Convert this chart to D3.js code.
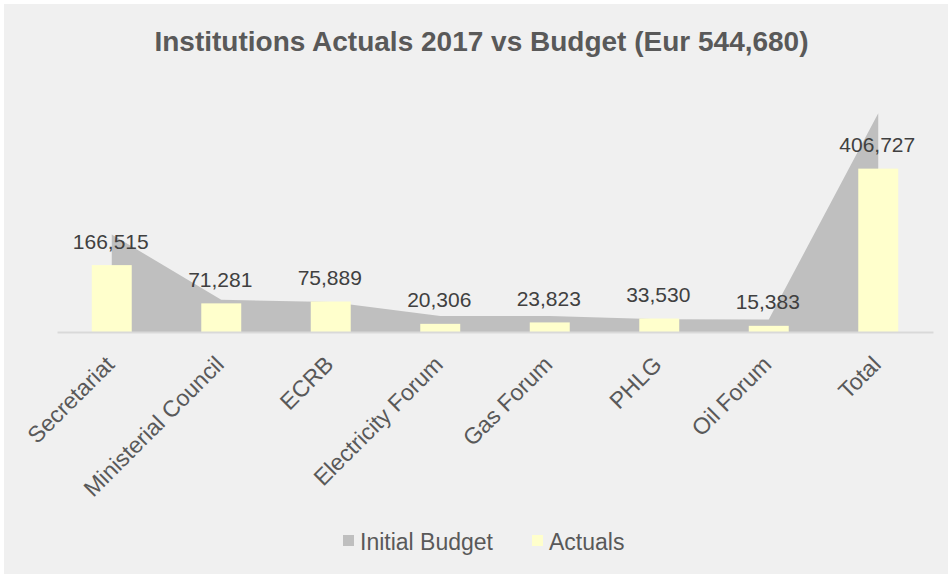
<!DOCTYPE html>
<html>
<head>
<meta charset="utf-8">
<script src="https://cdn.jsdelivr.net/npm/d3@7"></script>
<style>
  html, body { margin: 0; padding: 0; background: #ffffff; }
  svg { display: block; }
  text { font-family: "Liberation Sans", Arial, sans-serif; }
</style>
</head>
<body>
<svg id="chart" width="948" height="574"></svg>
<script>
const categories = ["Secretariat", "Ministerial Council", "ECRB", "Electricity Forum", "Gas Forum", "PHLG", "Oil Forum", "Total"];
const budgetValues = [243000, 80000, 75000, 40000, 40000, 32000, 31000, 544680];
const actualValues = [166515, 71281, 75889, 20306, 23823, 33530, 15383, 406727];
const seriesNames = ["Initial Budget", "Actuals"];
const titleText = "Institutions Actuals 2017 vs Budget (Eur 544,680)";

const W = 948, H = 574;
const svg = d3.select("#chart");

svg.append("rect").attr("x", 4).attr("y", 4).attr("width", W - 4).attr("height", H - 4).attr("fill", "#f0f0f0");

const x = d3.scaleBand().domain(categories).range([57, 933]).padding(0);
const y = d3.scaleLinear().domain([0, 600000]).range([332, 91]);
const cx = c => x(c) + x.bandwidth() / 2;

const fmt = d3.format(",");

// title
svg.append("text")
  .attr("x", 481.5).attr("y", 51)
  .attr("text-anchor", "middle")
  .attr("font-size", 28).attr("font-weight", "bold")
  .attr("fill", "#595959")
  .text(titleText);

// budget area
const area = d3.area()
  .x((d, i) => cx(categories[i]))
  .y0(y(0))
  .y1(d => y(d));
svg.append("path").datum(budgetValues)
  .attr("d", area)
  .attr("fill", "#bfbfbf");

// actual bars
const bw = x.bandwidth() * 0.365;
svg.selectAll("rect.bar").data(actualValues).join("rect")
  .attr("class", "bar")
  .attr("x", (d, i) => cx(categories[i]) - bw / 2)
  .attr("y", d => y(d))
  .attr("width", bw)
  .attr("height", d => y(0) - y(d))
  .attr("fill", "#ffffcc");

// axis line
const xAxis = d3.axisBottom(x).tickSize(0).tickFormat("");
const gx = svg.append("g").attr("transform", `translate(0,${y(0)})`).call(xAxis);
gx.select(".domain").attr("stroke", "#d9d9d9").attr("stroke-width", 2);

// category labels
svg.selectAll("text.cat").data(categories).join("text")
  .attr("class", "cat")
  .attr("transform", d => `translate(${cx(d) + 4},${y(0) + 34}) rotate(-45)`)
  .attr("text-anchor", "end")
  .attr("font-size", 23)
  .attr("fill", "#595959")
  .text(d => d);

// data labels
svg.selectAll("text.val").data(actualValues).join("text")
  .attr("class", "val")
  .attr("x", (d, i) => cx(categories[i]) - 1)
  .attr("y", d => y(d) - 16.5)
  .attr("text-anchor", "middle")
  .attr("font-size", 21)
  .attr("fill", "#404040")
  .text(d => fmt(d));

// legend
const legendItems = [
  { name: seriesNames[0], color: "#bfbfbf", x: 343 },
  { name: seriesNames[1], color: "#ffffcc", x: 532 }
];
const lg = svg.selectAll("g.leg").data(legendItems).join("g").attr("class", "leg");
lg.append("rect").attr("x", d => d.x).attr("y", 535).attr("width", 11).attr("height", 11).attr("fill", d => d.color);
lg.append("text").attr("x", d => d.x + 17).attr("y", 550)
  .attr("font-size", 23).attr("fill", "#595959")
  .text(d => d.name);
</script>
</body>
</html>
